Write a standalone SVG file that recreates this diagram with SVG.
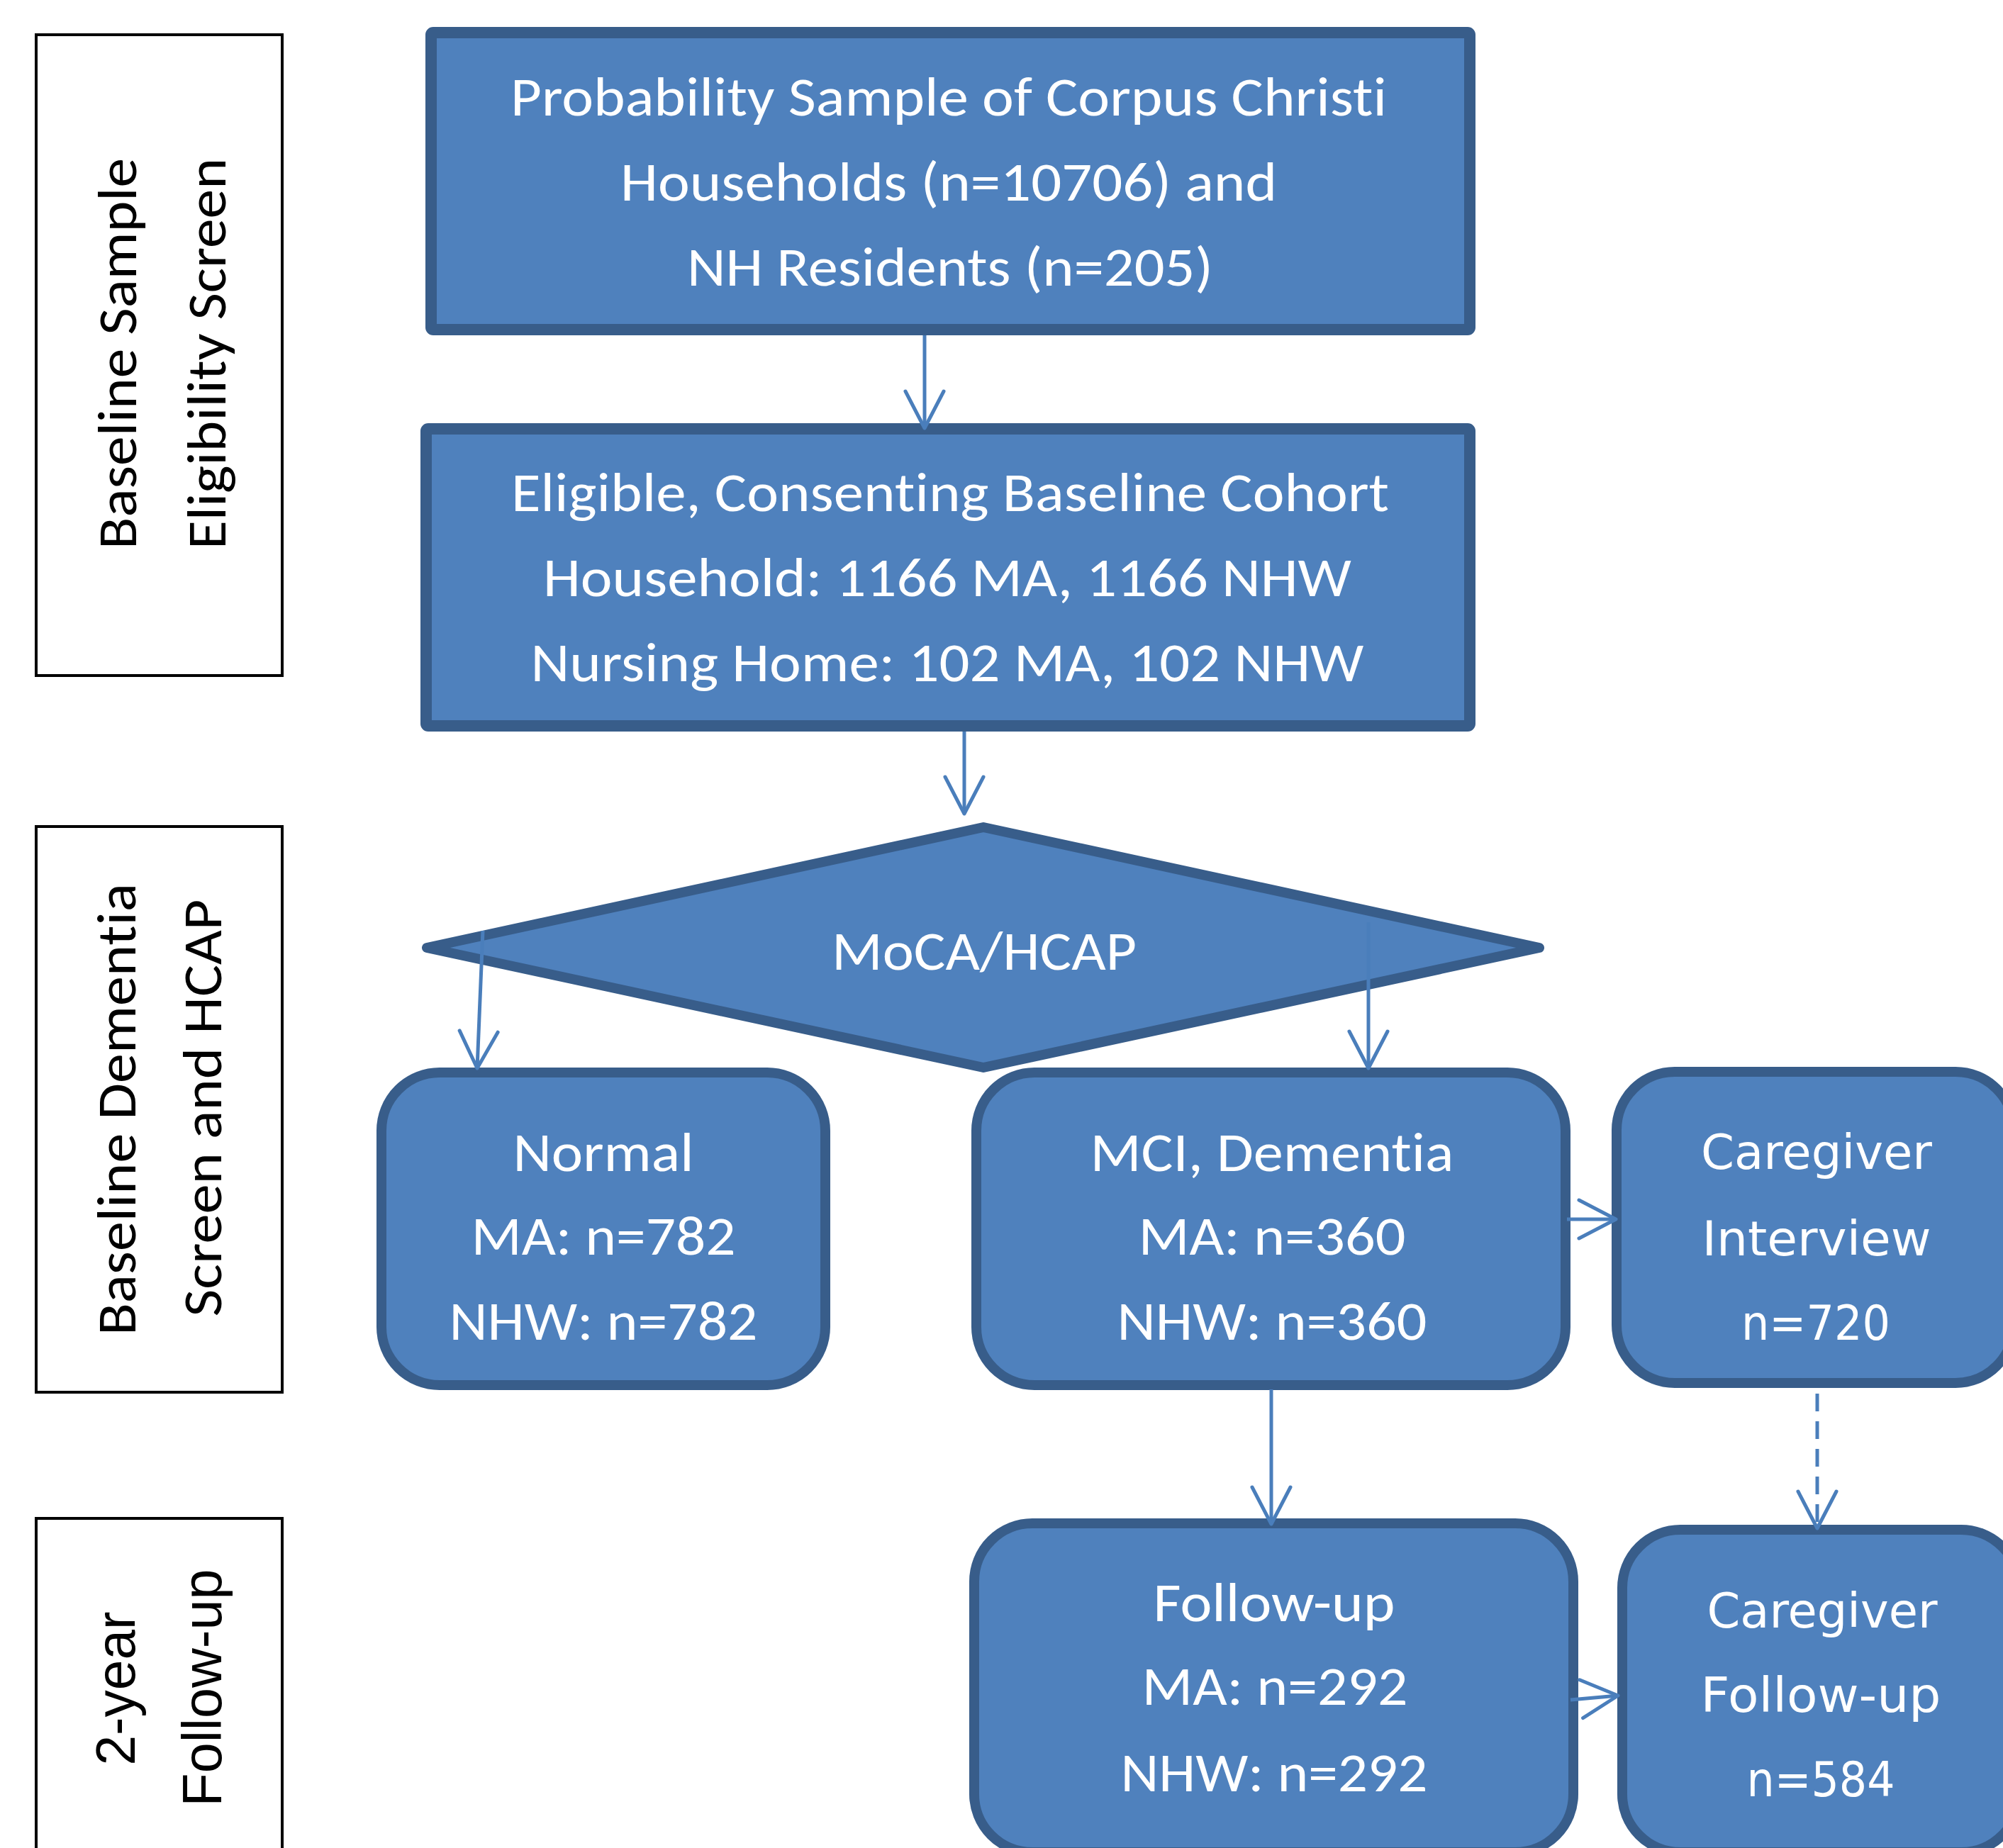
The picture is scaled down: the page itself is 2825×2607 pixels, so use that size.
<svg xmlns="http://www.w3.org/2000/svg" width="2825" height="2607" viewBox="0 0 2825 2607">
<style>
.bg{fill:#ffffff}
.node{fill:#4F81BD;stroke:#385D8A}
.sq{stroke-width:16;stroke-linejoin:round}
.rr{stroke-width:14}
.lab{fill:none;stroke:#000000;stroke-width:4}
.t{fill:#ffffff;font-family:Carlito,Lato,"Liberation Sans",sans-serif;font-size:79px;text-anchor:middle;font-variant-ligatures:none}
.tv{fill:#ffffff;font-family:"DejaVu Sans",Verdana,sans-serif;font-size:67px;text-anchor:middle}
.lt{fill:#000000;font-family:Carlito,Lato,"Liberation Sans",sans-serif;font-size:79px;text-anchor:middle;font-variant-ligatures:none}
.la{fill:#000000;font-family:"Liberation Sans",Arial,sans-serif;font-size:77px;text-anchor:middle}
.conn{fill:none;stroke:#4A7EBB;stroke-width:5}
.dash{stroke-dasharray:25 14}
</style>
<defs>
<marker id="arr" viewBox="0 0 60 60" refX="56" refY="30" markerWidth="60" markerHeight="60" markerUnits="userSpaceOnUse" orient="auto">
<path d="M4,3 L56,30 L4,57" fill="none" stroke="#4A7EBB" stroke-width="5" stroke-linecap="round" stroke-linejoin="round"/>
</marker>
</defs>
<rect class="bg" x="0" y="0" width="2825" height="2607"/>

<g id="label-baseline-sample">
<rect class="lab" x="51" y="49" width="347" height="904"/>
<text class="lt" transform="translate(192,499) rotate(-90)" textLength="552" lengthAdjust="spacingAndGlyphs">Baseline Sample</text>
<text class="lt" transform="translate(318,499) rotate(-90)" textLength="552" lengthAdjust="spacingAndGlyphs">Eligibility Screen</text>
</g>
<g id="label-baseline-dementia">
<rect class="lab" x="51" y="1166" width="347" height="798"/>
<text class="lt" transform="translate(191,1565) rotate(-90)" textLength="638" lengthAdjust="spacingAndGlyphs">Baseline Dementia</text>
<text class="lt" transform="translate(312,1563) rotate(-90)" textLength="589" lengthAdjust="spacingAndGlyphs">Screen and HCAP</text>
</g>
<g id="label-followup">
<rect class="lab" x="51" y="2142" width="347" height="500"/>
<text class="la" transform="translate(190,2382) rotate(-90)" textLength="217" lengthAdjust="spacingAndGlyphs">2-year</text>
<text class="la" transform="translate(312,2381) rotate(-90)" textLength="335" lengthAdjust="spacingAndGlyphs">Follow-up</text>
</g>

<g id="probability-sample">
<rect class="node sq" x="608" y="46" width="1465" height="419" rx="3"/>
<text class="t" x="1338" y="163" textLength="1236" lengthAdjust="spacingAndGlyphs">Probability Sample of Corpus Christi</text>
<text class="t" x="1338" y="283" textLength="926" lengthAdjust="spacingAndGlyphs">Households (n=10706) and</text>
<text class="t" x="1340" y="403" textLength="742" lengthAdjust="spacingAndGlyphs">NH Residents (n=205)</text>
</g>

<g id="eligible-cohort">
<rect class="node sq" x="601" y="605" width="1472" height="419" rx="3"/>
<text class="t" x="1340" y="721" textLength="1238" lengthAdjust="spacingAndGlyphs">Eligible, Consenting Baseline Cohort</text>
<text class="t" x="1336" y="841" textLength="1140" lengthAdjust="spacingAndGlyphs">Household: 1166 MA, 1166 NHW</text>
<text class="t" x="1336" y="961" textLength="1175" lengthAdjust="spacingAndGlyphs">Nursing Home: 102 MA, 102 NHW</text>
</g>

<g id="moca-hcap">
<polygon class="node" stroke-width="14" stroke-linejoin="round" points="1387,1167 2171,1337 1387,1506 602,1337"/>
<text class="t" x="1388" y="1368" textLength="430" lengthAdjust="spacingAndGlyphs">MoCA/HCAP</text>
</g>

<g id="normal">
<rect class="node rr" x="538" y="1513" width="626" height="441" rx="82" ry="82"/>
<text class="t" x="851" y="1652" textLength="255" lengthAdjust="spacingAndGlyphs">Normal</text>
<text class="t" x="851" y="1770" textLength="373" lengthAdjust="spacingAndGlyphs">MA: n=782</text>
<text class="t" x="851" y="1890" textLength="435" lengthAdjust="spacingAndGlyphs">NHW: n=782</text>
</g>

<g id="mci-dementia">
<rect class="node rr" x="1377" y="1513" width="831" height="441" rx="82" ry="82"/>
<text class="t" x="1794" y="1652" textLength="513" lengthAdjust="spacingAndGlyphs">MCI, Dementia</text>
<text class="t" x="1794" y="1770" textLength="377" lengthAdjust="spacingAndGlyphs">MA: n=360</text>
<text class="t" x="1794" y="1890" textLength="437" lengthAdjust="spacingAndGlyphs">NHW: n=360</text>
</g>

<g id="caregiver-interview">
<rect class="node rr" x="2280" y="1512" width="560" height="439" rx="82" ry="82"/>
<text class="tv" x="2562" y="1649" textLength="326" lengthAdjust="spacingAndGlyphs">Caregiver</text>
<text class="tv" x="2562" y="1771" textLength="323" lengthAdjust="spacingAndGlyphs">Interview</text>
<text class="tv" x="2561" y="1890" textLength="210" lengthAdjust="spacingAndGlyphs">n=720</text>
</g>

<g id="follow-up">
<rect class="node rr" x="1374" y="2149" width="845" height="464" rx="82" ry="82"/>
<text class="t" x="1797" y="2287" textLength="341" lengthAdjust="spacingAndGlyphs">Follow-up</text>
<text class="t" x="1798" y="2405" textLength="375" lengthAdjust="spacingAndGlyphs">MA: n=292</text>
<text class="t" x="1797" y="2527" textLength="433" lengthAdjust="spacingAndGlyphs">NHW: n=292</text>
</g>

<g id="caregiver-follow-up">
<rect class="node rr" x="2288" y="2158" width="560" height="455" rx="82" ry="82"/>
<text class="tv" x="2570" y="2296" textLength="325" lengthAdjust="spacingAndGlyphs">Caregiver</text>
<text class="tv" x="2568" y="2415" textLength="339" lengthAdjust="spacingAndGlyphs">Follow-up</text>
<text class="tv" x="2568" y="2534" textLength="209" lengthAdjust="spacingAndGlyphs">n=584</text>
</g>

<g id="connectors">
<line class="conn" x1="1304" y1="473" x2="1304" y2="604" marker-end="url(#arr)"/>
<line class="conn" x1="1360" y1="1032" x2="1360" y2="1148" marker-end="url(#arr)"/>
<line class="conn" x1="681" y1="1313" x2="673" y2="1507" marker-end="url(#arr)"/>
<line class="conn" x1="1930" y1="1301" x2="1930" y2="1507" marker-end="url(#arr)"/>
<line class="conn" x1="2210" y1="1720" x2="2279" y2="1720" marker-end="url(#arr)"/>
<line class="conn" x1="1793" y1="1960" x2="1793" y2="2150" marker-end="url(#arr)"/>
<line class="conn dash" x1="2563" y1="1966" x2="2563" y2="2156" marker-end="url(#arr)"/>
<line class="conn" x1="2215" y1="2398" x2="2282" y2="2392" marker-end="url(#arr)"/>
</g>
</svg>
